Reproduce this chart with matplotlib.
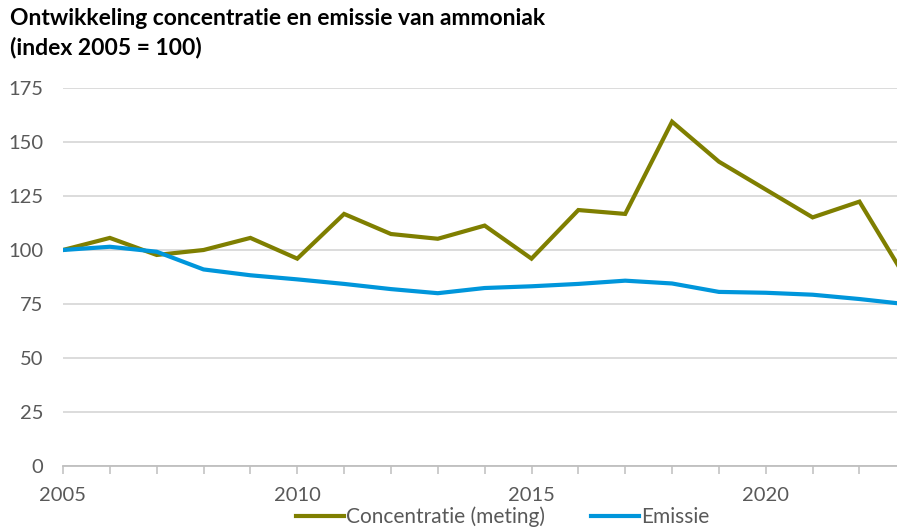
import matplotlib.pyplot as plt

plt.rcParams['font.family'] = ['Lato', 'DejaVu Sans']

years = list(range(2005, 2024))
concentratie = [100, 105.6, 97.7, 100, 105.6, 96.0, 116.7, 107.4, 105.2, 111.3,
                96.0, 118.5, 116.7, 159.4, 140.9, 128.0, 115.1, 122.4, 86.6]
emissie = [100, 101.5, 99.2, 91.0, 88.3, 86.4, 84.3, 81.9, 80.0, 82.4,
           83.2, 84.3, 85.8, 84.5, 80.6, 80.2, 79.3, 77.3, 74.9]
yticks = [0, 25, 50, 75, 100, 125, 150, 175]
xticks = [2005, 2010, 2015, 2020]

olive = '#7F7F00'
blue = '#0096DB'
grey_txt = '#595959'

fig = plt.figure(figsize=(8.97, 5.30), dpi=100)
ax = fig.add_axes([63 / 897, 1 - 466 / 530, 1 - 63 / 897, (466 - 88) / 530])

ax.plot(years, concentratie, color=olive, lw=3.0, label='Concentratie (meting)',
        solid_joinstyle='miter', zorder=3)
ax.plot(years, emissie, color=blue, lw=3.0, label='Emissie',
        solid_joinstyle='round', zorder=3)

ax.set_yticks(yticks)
ax.set_xticks(xticks)
ax.set_xticks(years, minor=True)
# the original chart is cut off just before 2023
ax.set_xlim(2005, 2005 + (897 - 63) / 46.85)
ax.set_ylim(0, 175)
ax.grid(axis='y', color='#D9D9D9', lw=1.3, zorder=0)
ax.set_axisbelow(True)

for s in ['top', 'right', 'left']:
    ax.spines[s].set_visible(False)
ax.spines['bottom'].set_color('#BFBFBF')
ax.spines['bottom'].set_linewidth(1.3)

ax.tick_params(axis='y', length=0, pad=14, labelsize=14.5, labelcolor=grey_txt)
ax.tick_params(axis='x', which='both', length=6, width=1.1, color='#BFBFBF',
               labelsize=14.5, labelcolor=grey_txt, pad=9)
ax.tick_params(axis='x', which='minor', labelbottom=False)

fig.text(10 / 897, 1 - 8 / 530,
         'Ontwikkeling concentratie en emissie van ammoniak\n(index 2005 = 100)',
         fontsize=16.5, fontweight='bold', color='black', va='top', ha='left',
         linespacing=1.45)

fig.legend(loc='center', bbox_to_anchor=(503 / 897, 1 - 517 / 530), ncol=2,
           frameon=False, fontsize=15, handlelength=2.3, handletextpad=0.1,
           columnspacing=2.2, labelcolor=grey_txt, borderaxespad=0)

fig.savefig('out.png', dpi=100)
